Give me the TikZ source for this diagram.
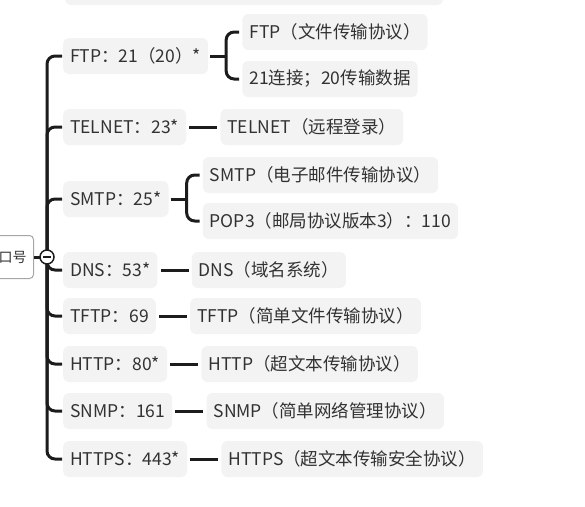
\documentclass[tikz,border=0pt]{standalone}
\usepackage{fontspec}
\setmainfont{Noto Sans CJK SC}
\usetikzlibrary{
  calc,
  positioning,
}
\definecolor{topicgray}{RGB}{243, 243, 243}
\definecolor{textgray}{RGB}{50, 50, 50}
\definecolor{linegray}{RGB}{28, 28, 28}
\tikzstyle{topic} = [
  fill=topicgray,
  rounded corners=6pt,
  text=textgray,
  font=\fontsize{17.5}{19}\selectfont,
  inner xsep=7pt,
  minimum height=36pt,
  anchor=west,
]
\tikzstyle{branch} = [
  line width=3pt,
  linegray,
  rounded corners=8pt,
]

\begin{document}
\begin{tikzpicture}[x=1pt, y=-1pt]

        \useasboundingbox (0,0) rectangle (585,506);
        \clip (0,0) rectangle (585,506);

        % Topic cut off above
        \fill [topicgray, rounded corners=6pt] (65,-40) rectangle (443,5);

        % Root
        \node [draw=gray!70, line width=1pt, fill=white, rounded corners=4pt,
               text=textgray, font=\fontsize{14}{16}\selectfont,
               inner xsep=7pt, minimum height=43pt, anchor=east]
              (root) at (34,257) {口号};
        \coordinate (hub) at (47,257);

        % Ports
        \node [topic] (ftp)    at (63,56)  {FTP：21（20）*};
        \node [topic] (telnet) at (63,127) {TELNET：23*};
        \node [topic] (smtp)   at (63,199) {SMTP：25*};
        \node [topic] (dns)    at (63,270) {DNS：53*};
        \node [topic] (tftp)   at (63,316) {TFTP：69};
        \node [topic] (http)   at (63,364) {HTTP：80*};
        \node [topic] (snmp)   at (63,411) {SNMP：161};
        \node [topic] (https)  at (63,459) {HTTPS：443*};

        % Protocols
        \node [topic, right=34pt of ftp, yshift=24pt]  (ftpname)    {FTP（文件传输协议）};
        \node [topic, right=34pt of ftp, yshift=-23pt] (ftpuse)     {21连接；20传输数据};
        \node [topic, right=34pt of telnet]            (telnetname) {TELNET（远程登录）};
        \node [topic, right=34pt of smtp, yshift=24pt] (smtpname)   {SMTP（电子邮件传输协议）};
        \node [topic, right=34pt of smtp, yshift=-22pt](popname)    {POP3（邮局协议版本3）：110};
        \node [topic, right=34pt of dns]               (dnsname)    {DNS（域名系统）};
        \node [topic, right=34pt of tftp]              (tftpname)   {TFTP（简单文件传输协议）};
        \node [topic, right=34pt of http]              (httpname)   {HTTP（超文本传输协议）};
        \node [topic, right=34pt of snmp]              (snmpname)   {SNMP（简单网络管理协议）};
        \node [topic, right=34pt of https]             (httpsname)  {HTTPS（超文本传输安全协议）};

        % Branches
        \foreach \port in {ftp,telnet,smtp,dns,tftp,http,snmp,https} {
          \draw [branch, shorten >=1pt] (hub) |- (\port.west);
        }

        \foreach \port/\proto in {telnet/telnetname, dns/dnsname, tftp/tftpname,
                                  http/httpname, snmp/snmpname, https/httpsname} {
          \draw [branch, shorten <=3pt, shorten >=3pt] (\port.east) -- (\proto.west);
        }

        \coordinate (ftpfork) at ($(ftp.east)+(18,0)$);
        \draw [branch, shorten <=2pt] (ftp.east) -- (ftpfork);
        \draw [branch, shorten >=3pt] (ftpfork) |- (ftpname.west);
        \draw [branch, shorten >=3pt] (ftpfork) |- (ftpuse.west);

        \coordinate (smtpfork) at ($(smtp.east)+(18,0)$);
        \draw [branch, shorten <=2pt] (smtp.east) -- (smtpfork);
        \draw [branch, shorten >=3pt] (smtpfork) |- (smtpname.west);
        \draw [branch, shorten >=3pt] (smtpfork) |- (popname.west);

        % Fold button
        \draw [linegray, line width=3pt] (root.east) -- (hub);
        \node [circle, draw=linegray, line width=1.5pt, fill=white,
               minimum size=14pt, inner sep=0pt] (fold) at (hub) {};
        \draw [linegray, line width=1.3pt] ($(fold.center)+(-4,0)$) -- ($(fold.center)+(4,0)$);
      \end{tikzpicture}
\end{document}
